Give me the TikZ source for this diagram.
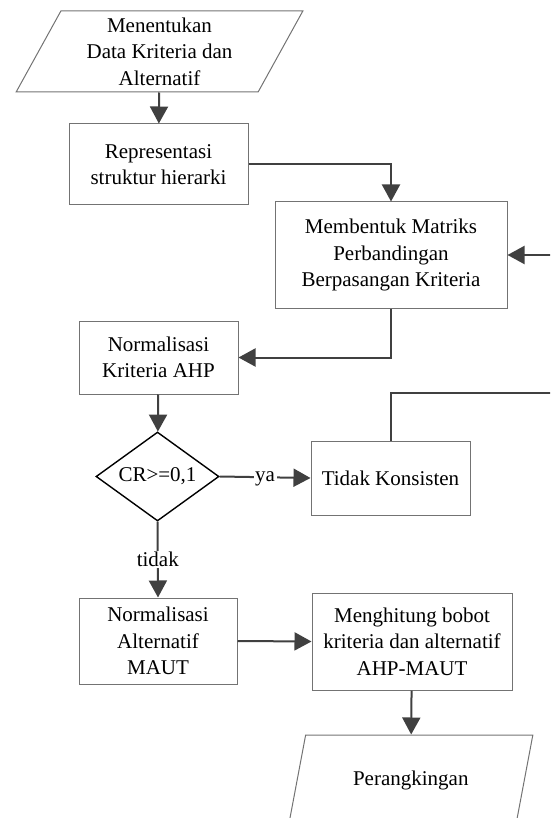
\documentclass[tikz,border=0pt]{standalone}
\usepackage{fontspec}
\setmainfont{Liberation Serif}
\usetikzlibrary{shapes.geometric,arrows.meta}
\begin{document}
\begin{tikzpicture}
    [x=1pt,y=-1pt,
     font=\fontsize{21}{26.5}\selectfont,
     box/.style={rectangle,draw=black!55,line width=1pt,align=center,inner sep=0pt},
     io/.style={trapezium,trapezium left angle=64,trapezium right angle=116,
       trapezium stretches=true,draw=black!55,line width=1pt,align=center,inner sep=0pt},
     decision/.style={diamond,draw=black,line width=1.4pt,aspect=1.38,inner sep=0pt},
     flow/.style={draw=black!75,line width=2pt,-{Triangle[length=17pt,width=18pt]}},
     lbl/.style={fill=white,inner sep=1.5pt}]
    \useasboundingbox (0,0) rectangle (550,818);
    \clip (0,0) rectangle (550,818);
    \node (input) at (159.5,51.5) [io,minimum width=287pt,minimum height=81pt] {Menentukan\\Data Kriteria dan\\Alternatif};
    \node (rep) at (158.5,164.5) [box,minimum width=179pt,minimum height=81pt] {Representasi\\struktur hierarki};
    \node (mpb) at (391,255) [box,minimum width=232pt,minimum height=106pt] {Membentuk Matriks\\Perbandingan\\Berpasangan Kriteria};
    \node (nk) at (158.5,357.5) [box,minimum width=159pt,minimum height=73pt] {Normalisasi\\Kriteria AHP};
    \node (cr) at (157.5,476.5) [decision,minimum width=123pt,minimum height=89pt] {CR>=0,1};
    \node (tk) at (390.5,478) [box,minimum width=159pt,minimum height=74pt] {Tidak Konsisten};
    \node (na) at (158,641) [box,minimum width=158pt,minimum height=86pt] {Normalisasi\\Alternatif\\MAUT};
    \node (mh) at (412,641.5) [box,minimum width=200pt,minimum height=97pt] {Menghitung bobot\\kriteria dan alternatif\\AHP-MAUT};
    \node (rank) at (410.75,780) [io,minimum width=244.5pt,minimum height=90pt] {Perangkingan};
    \coordinate (loop) at (560,393);
    \draw [flow] (input) -- (rep);
    \draw [flow] (rep.east) -| (mpb.north);
    \draw [flow] (mpb.south) |- (nk.east);
    \draw [flow] (nk) -- (cr);
    \draw [flow] (cr.east) -- node [lbl,yshift=-2pt] {ya} (tk.west);
    \draw [flow] (tk.north) |- (loop) |- (mpb.east);
    \draw [flow] (cr.south) -- node [lbl] {tidak} (na.north);
    \draw [flow] (na.east) -- (mh.west);
    \draw [flow] (mh) -- (rank);
\end{tikzpicture}
\end{document}
